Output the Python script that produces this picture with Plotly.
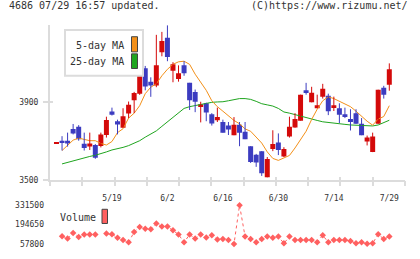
import plotly.graph_objects as go

# ---------------- data ----------------
dates = ["5/1", "5/2", "5/7", "5/8", "5/9", "5/12", "5/13", "5/14", "5/15", "5/16",
         "5/19", "5/20", "5/21", "5/22", "5/23", "5/26", "5/27", "5/28", "5/29", "5/30",
         "6/2", "6/3", "6/4", "6/5", "6/6", "6/9", "6/10", "6/11", "6/12", "6/13",
         "6/16", "6/17", "6/18", "6/19", "6/20", "6/23", "6/24", "6/25", "6/26", "6/27",
         "6/30", "7/1", "7/2", "7/3", "7/4", "7/7", "7/8", "7/9", "7/10", "7/11",
         "7/14", "7/15", "7/16", "7/17", "7/18", "7/22", "7/23", "7/24", "7/25", "7/28",
         "7/29"]
tick_labels = ["5/19", "6/2", "6/16", "6/30", "7/14", "7/29"]

opens = [3690, 3702, 3702, 3761, 3773, 3687, 3673, 3680, 3675, 3731,
         3850, 3801, 3768, 3840, 3908, 3941, 4070, 4002, 3982, 4151,
         4225, 4057, 4016, 4085, 3996, 3950, 3873, 3892, 3836, 3806,
         3797, 3779, 3730, 3783, 3748, 3674, 3630, 3649, 3516, 3660,
         3693, 3622, 3723, 3769, 3804, 3958, 3897, 3867, 3926, 3931,
         3873, 3867, 3837, 3812, 3842, 3788, 3698, 3644, 3788, 3971,
         3986]
highs = [3692, 3725, 3743, 3787, 3781, 3743, 3743, 3685, 3743, 3824,
         3870, 3809, 3867, 3901, 3950, 4070, 4082, 4024, 4240, 4255,
         4288, 4101, 4085, 4106, 3996, 3962, 3900, 3895, 3842, 3870,
         3809, 3797, 3822, 3797, 3797, 3674, 3635, 3649, 3619, 3755,
         3739, 3669, 3824, 3842, 3936, 3996, 3976, 3936, 3991, 3941,
         3926, 3892, 3870, 3862, 3862, 3817, 3728, 3743, 3961, 3981,
         4095]
lows = [3690, 3652, 3672, 3734, 3702, 3652, 3655, 3610, 3668, 3718,
        3830, 3734, 3768, 3817, 3842, 3935, 3958, 3925, 3974, 4131,
        4106, 3999, 4002, 4032, 3858, 3847, 3795, 3801, 3779, 3797,
        3743, 3731, 3730, 3674, 3710, 3589, 3569, 3523, 3516, 3649,
        3629, 3619, 3718, 3768, 3804, 3936, 3897, 3867, 3916, 3832,
        3853, 3792, 3817, 3754, 3788, 3730, 3678, 3644, 3788, 3916,
        3956]
closes = [3692, 3692, 3688, 3739, 3710, 3665, 3688, 3616, 3733, 3807,
          3834, 3784, 3826, 3885, 3945, 4060, 3977, 3982, 4085, 4209,
          4127, 4090, 4045, 4045, 3908, 3900, 3887, 3845, 3789, 3822,
          3743, 3759, 3783, 3743, 3710, 3594, 3591, 3536, 3609, 3685,
          3655, 3660, 3773, 3812, 3936, 3948, 3946, 3882, 3966, 3852,
          3882, 3834, 3827, 3797, 3788, 3730, 3718, 3723, 3961, 3936,
          4065]

ma5 = [None, 3652, 3677, 3705, 3715, 3710, 3702, 3702, 3688, 3680, 3698,
       3743, 3763, 3817, 3842, 3880, 3941, 3974, 3991, 4032, 4065,
       4090, 4103, 4106, 4090, 4040, 3999, 3958, 3905, 3875, 3852,
       3830, 3805, 3788, 3762, 3750, 3720, 3690, 3645, 3612, 3602,
       3615, 3627, 3665, 3705, 3750, 3810, 3862, 3905, 3925, 3916,
       3902, 3890, 3875, 3852, 3826, 3801, 3781, 3812, 3825, 3880]
ma25 = [None, 3584, 3592, 3602, 3610, 3615, 3622, 3628, 3635, 3645, 3655,
        3661, 3668, 3677, 3688, 3702, 3720, 3737, 3752, 3775, 3797,
        3820, 3845, 3866, 3875, 3880, 3887, 3893, 3897, 3899, 3900,
        3905, 3912, 3916, 3916, 3912, 3902, 3890, 3884, 3878, 3866,
        3848, 3842, 3834, 3828, 3820, 3810, 3805, 3798, 3794, 3790,
        3788, 3785, 3782, 3780, 3778, 3777, 3777, 3782, 3792, 3806]
volumes = [None, 113000, 97000, 136000, 108000, 125000, 125000, 125000, None, 131600,
           126700, 101200, 85400, 69500, 142600, 177100, 166000, 161200, 202600, 181900,
           181900, 154300, 124700, 69500, 124700, 97100, 124700, 104000, 119800, 90200,
           92300, 86000, 57800, 331500, 110000, 92300, 69500, 92300, 110000, 101200,
           110000, 62600, 110000, 85400, 85400, 85400, 85400, 69500, 119800, 69500,
           85400, 85400, 85400, 78500, 62600, 69500, 59000, 62600, 126700, 92300,
           110000]

# ---------------- styles ----------------
RED = "#d40a0a"
BLUE = "#3c3cc0"
ORANGE = "#f39019"
GREEN = "#1fa51f"
VOLC = "#ff6060"
AXC = "#dcdcdc"
TXT = "#333333"
FONT = "DejaVu Sans Mono"

W, H = 420, 259
ML, MR, MT, MB = 50, 15, 25, 10
PW, PH = W - ML - MR, H - MT - MB


def px(xp):
    return (xp - ML) / PW


def py(yp):
    return (H - MB - yp) / PH


n = len(dates)
xs = list(range(n))
XR = [-1.17, 62.83]
YR = [3500, 4290]
main_dom = [py(184), 1.0]
vol_dom = [0.0, py(209.3)]

colors = [RED if c >= o else BLUE for o, c in zip(opens, closes)]
base = [min(o, c) for o, c in zip(opens, closes)]
hgt = [max(abs(c - o), 5) for o, c in zip(opens, closes)]

fig = go.Figure()

# moving averages
fig.add_trace(go.Scatter(x=xs, y=ma25, mode="lines", line=dict(color=GREEN, width=1),
                         hoverinfo="skip", showlegend=False))
fig.add_trace(go.Scatter(x=xs, y=ma5, mode="lines", line=dict(color=ORANGE, width=1),
                         hoverinfo="skip", showlegend=False))

# wicks
for col in (RED, BLUE):
    wx, wy = [], []
    for i in xs:
        if colors[i] == col:
            wx += [i, i, None]
            wy += [lows[i], highs[i], None]
    fig.add_trace(go.Scatter(x=wx, y=wy, mode="lines", line=dict(color=col, width=1),
                             hoverinfo="skip", showlegend=False))

# bodies
fig.add_trace(go.Bar(x=xs, y=hgt, base=base, width=0.9, marker=dict(color=colors, line=dict(width=0)),
                     hoverinfo="skip", showlegend=False))

# volume
fig.add_trace(go.Scatter(x=xs, y=volumes, mode="lines+markers", xaxis="x2", yaxis="y2",
                         line=dict(color=VOLC, width=1, dash="dot"),
                         marker=dict(symbol="diamond", size=5, color=VOLC),
                         connectgaps=False, cliponaxis=False, hoverinfo="skip", showlegend=False))

# dummy traces to carry the tick-overlay axes
fig.add_trace(go.Scatter(x=[None], y=[None], xaxis="x3", yaxis="y", showlegend=False, hoverinfo="skip"))
fig.add_trace(go.Scatter(x=[None], y=[None], xaxis="x4", yaxis="y3", showlegend=False, hoverinfo="skip"))

vmin = min(v for v in volumes if v is not None)
vmax = max(v for v in volumes if v is not None)
vticks = [vmin, (vmin + vmax) / 2, vmax]

nt = 11
even_ticks = [XR[0] + (XR[1] - XR[0]) * k / nt for k in range(nt + 1)]
tickvals = [dates.index(t) for t in tick_labels]

tf = dict(family=FONT, size=8, color=TXT)

fig.update_layout(
    width=W, height=H, margin=dict(l=ML, r=MR, t=MT, b=MB),
    paper_bgcolor="white", plot_bgcolor="white", barmode="overlay",
    showlegend=False,
    xaxis=dict(domain=[0, 1], anchor="y", range=XR, showline=True, linecolor=AXC, linewidth=2,
               tickmode="array", tickvals=tickvals, ticktext=tick_labels,
               ticks="outside", ticklen=9, tickcolor="rgba(0,0,0,0)", tickfont=tf,
               showgrid=False, zeroline=False, fixedrange=True),
    xaxis3=dict(overlaying="x", anchor="y", range=XR, tickmode="array", tickvals=even_ticks,
                ticks="outside", ticklen=5, tickwidth=2, tickcolor=AXC, showticklabels=False,
                showline=False, showgrid=False, zeroline=False),
    xaxis4=dict(overlaying="x", anchor="y3", range=XR, tickmode="array", tickvals=even_ticks,
                ticks="inside", ticklen=3, tickwidth=2, tickcolor=AXC, showticklabels=False,
                showline=False, showgrid=False, zeroline=False),
    yaxis=dict(domain=main_dom, anchor="x", range=YR, showline=True, linecolor=AXC, linewidth=2,
               tickmode="array", tickvals=[3500, 3900], ticks="outside", ticklen=5, tickwidth=2,
               tickcolor=AXC, tickfont=tf, ticklabelstandoff=3,
               showgrid=False, zeroline=False),
    yaxis3=dict(overlaying="y", anchor="x", range=YR, tickmode="array", tickvals=[3500, 3900],
                ticks="inside", ticklen=3, tickwidth=2, tickcolor=AXC, showticklabels=False,
                showline=False, showgrid=False, zeroline=False),
    xaxis2=dict(domain=[0, 1], anchor="y2", range=XR, matches="x", visible=False),
    yaxis2=dict(domain=vol_dom, anchor="x2", range=[vmin, vmax], tickmode="array", tickvals=vticks,
                ticktext=[f"{int(v)}" for v in vticks], ticks="", tickfont=tf, ticklabelstandoff=5,
                showline=False, showgrid=False, zeroline=False),
)

# header
fig.add_annotation(text="4686 07/29 16:57 updated.", xref="paper", yref="paper", x=px(7), y=py(5),
                   xanchor="left", yanchor="middle", showarrow=False,
                   font=dict(family=FONT, size=10, color=TXT))
fig.add_annotation(text="(C)https://www.rizumu.net/", xref="paper", yref="paper", x=px(410), y=py(5),
                   xanchor="right", yanchor="middle", showarrow=False,
                   font=dict(family=FONT, size=10, color=TXT))

# price legend box
fig.add_shape(type="rect", xref="paper", yref="paper", x0=px(65), x1=px(143), y0=py(77), y1=py(30),
              line=dict(color=AXC, width=2), fillcolor="white", layer="above")
fig.add_annotation(text="5-day MA", xref="paper", yref="paper", x=px(126), y=py(45.5),
                   xanchor="right", yanchor="middle", showarrow=False,
                   font=dict(family=FONT, size=10, color=TXT))
fig.add_annotation(text="25-day MA", xref="paper", yref="paper", x=px(126), y=py(62.5),
                   xanchor="right", yanchor="middle", showarrow=False,
                   font=dict(family=FONT, size=10, color=TXT))
fig.add_shape(type="rect", xref="paper", yref="paper", x0=px(131.5), x1=px(137.5), y0=py(52.5), y1=py(37),
              line=dict(color="#444444", width=1), fillcolor=ORANGE, layer="above")
fig.add_shape(type="rect", xref="paper", yref="paper", x0=px(131.5), x1=px(137.5), y0=py(69.5), y1=py(54.5),
              line=dict(color="#444444", width=1), fillcolor=GREEN, layer="above")

# volume legend
fig.add_annotation(text="Volume", xref="paper", yref="paper", x=px(57.5), y=py(222),
                   xanchor="left", yanchor="middle", showarrow=False,
                   font=dict(family=FONT, size=10, color=TXT))
fig.add_shape(type="rect", xref="paper", yref="paper", x0=px(102), x1=px(107.5), y0=py(228), y1=py(213.5),
              line=dict(color="#444444", width=1), fillcolor=VOLC, layer="above")

fig.write_html("out.html")
